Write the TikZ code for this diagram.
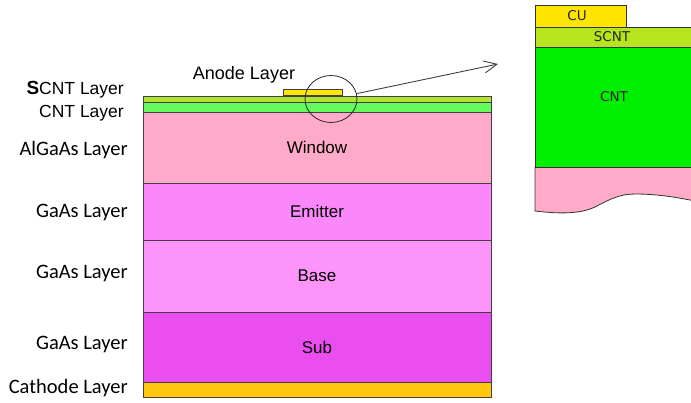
\documentclass[tikz,border=0pt]{standalone}
\usepackage{fontspec}
\setmainfont{Liberation Sans}
\newfontfamily\calfont{Carlito}
\newfontfamily\tahfont{DejaVu Sans}
\usetikzlibrary{arrows.meta,shapes.geometric}
\definecolor{windowc}{RGB}{255,170,200}
\definecolor{emitterc}{RGB}{250,136,250}
\definecolor{basec}{RGB}{252,148,250}
\definecolor{subc}{RGB}{234,78,238}
\definecolor{cathodec}{RGB}{255,200,14}
\definecolor{anodec}{RGB}{255,230,0}
\definecolor{cntc}{RGB}{100,250,90}
\definecolor{scntc}{RGB}{175,230,50}
\definecolor{icntc}{RGB}{0,240,0}
\definecolor{iscntc}{RGB}{182,228,30}
\definecolor{edgec}{RGB}{70,60,75}
\tikzset{
  layer/.style={draw=edgec, line width=0.9pt, minimum width=348pt, inner sep=0pt, outer sep=0pt, font=\fontsize{17}{20}\selectfont},
  sidelabel/.style={anchor=east, inner sep=0pt, font=\calfont\fontsize{20.5}{24}\selectfont},
  toplabel/.style={anchor=east, inner sep=0pt, font=\fontsize{17.5}{20}\selectfont},
  insetbox/.style={draw=black!80, line width=0.8pt},
  insetlabel/.style={inner sep=0pt, text=black!85, font=\tahfont\fontsize{13.5}{15}\selectfont}
}
\begin{document}
\begin{tikzpicture}[x=1pt,y=-1pt]
\useasboundingbox (0,0) rectangle (691,402);
% main stack
\node[layer, fill=scntc, minimum height=6pt] (scnt) at (317,99) {};
\node[layer, fill=cntc, minimum height=10pt] (cnt) at (317,107) {};
\node[layer, fill=windowc, minimum height=71pt] (window) at (317,147.5) {Window};
\node[layer, fill=emitterc, minimum height=57pt] (emitter) at (317,211.5) {Emitter};
\node[layer, fill=basec, minimum height=72pt] (base) at (317,276) {Base};
\node[layer, fill=subc, minimum height=70pt] (sub) at (317,347) {Sub};
\node[layer, fill=cathodec, minimum height=15pt] (cathode) at (317,389.5) {};
% anode
\node[draw=edgec, line width=0.8pt, fill=anodec, minimum width=59pt, minimum height=6pt, inner sep=0pt, anchor=south] (anode) at (312.5,96) {};
% labels
\node[inner sep=0pt, font=\fontsize{18}{20}\selectfont] (anodelab) at (244,75) {Anode Layer};
\node[toplabel] (scntlab) at (124,90) {{\bfseries\fontsize{19}{20}\selectfont S}CNT Layer};
\node[toplabel] (cntlab) at (124,113) {CNT Layer};
\node[sidelabel] (l1) at (128,150) {AlGaAs Layer};
\node[sidelabel] (l2) at (128,212) {GaAs Layer};
\node[sidelabel] (l3) at (128,273) {GaAs Layer};
\node[sidelabel] (l4) at (128,344) {GaAs Layer};
\node[sidelabel] (l5) at (128,388) {Cathode Layer};
% zoom circle and arrow
\node[draw=black!85, line width=0.8pt, ellipse, minimum width=52pt, minimum height=47pt, inner sep=0pt] (zoomc) at (331,99) {};
\coordinate (tip) at (498,64);
\draw[black!75, line width=0.9pt, -{Straight Barb[length=13pt,width=12pt,line width=0.9pt]}] (zoomc) -- (tip);
% inset
\begin{scope}
\clip (530,0) rectangle (691,402);
\path[insetbox, fill=windowc] (535,167) -- (535,211) .. controls (560,214) and (580,214) .. (595,207) .. controls (610,199) and (620,194) .. (635,194) .. controls (660,194) and (680,198) .. (700,202) -- (700,167) -- cycle;
\path[insetbox, fill=icntc] (535,47) rectangle (700,167);
\path[insetbox, fill=iscntc] (535,27) rectangle (700,47);
\path[insetbox, fill=anodec] (535,5) rectangle (626,27);
\end{scope}
\node[insetlabel] (cu) at (577,16) {CU};
\node[insetlabel] (iscnt) at (612,37) {SCNT};
\node[insetlabel] (icnt) at (614,97) {CNT};
\end{tikzpicture}
\end{document}
